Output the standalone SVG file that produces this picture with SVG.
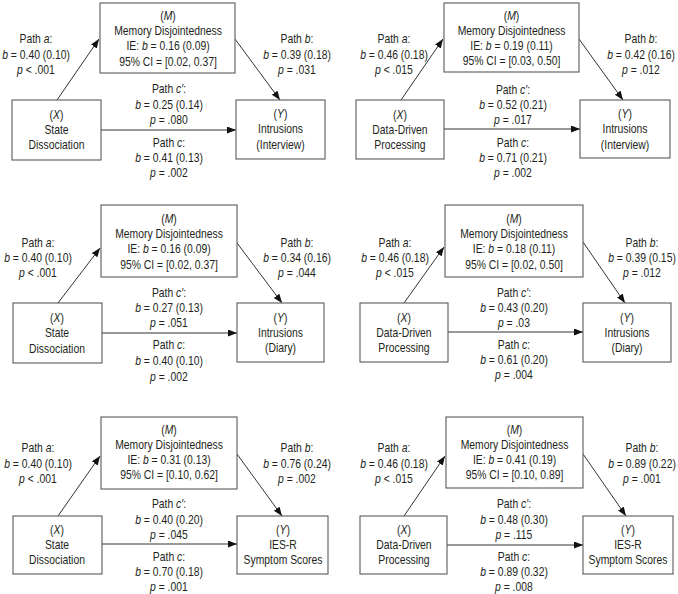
<svg xmlns="http://www.w3.org/2000/svg" width="678" height="594" viewBox="0 0 678 594">
<style>
text{font-family:"Liberation Sans",Arial,sans-serif;font-size:12.5px;fill:#231f20;text-anchor:middle;transform-box:fill-box;transform-origin:center;transform:scaleX(0.83)}
.i{font-style:italic}
.box{fill:#fff;stroke:#5a5a5a;stroke-width:1.1}
.ln{fill:none;stroke:#333;stroke-width:1;marker-end:url(#ah)}
</style>
<defs>
<marker id="ah" markerUnits="userSpaceOnUse" markerWidth="10" markerHeight="8" refX="9" refY="3.5" orient="auto">
<path d="M0,0 L9,3.5 L0,7 z" fill="#111"/>
</marker>
</defs>
<rect width="678" height="594" fill="#fff"/>

<g id="connectors">
<line class="ln" x1="57" y1="100" x2="99" y2="39"/>
<line class="ln" x1="235" y1="39" x2="280" y2="100"/>
<line class="ln" x1="101" y1="130" x2="236" y2="130"/>
<line class="ln" x1="401" y1="100" x2="443" y2="39"/>
<line class="ln" x1="579" y1="39" x2="623" y2="100"/>
<line class="ln" x1="444" y1="129" x2="580" y2="129"/>
<line class="ln" x1="58" y1="303" x2="100" y2="248"/>
<line class="ln" x1="237" y1="243" x2="282" y2="303"/>
<line class="ln" x1="102" y1="333" x2="237" y2="333"/>
<line class="ln" x1="404" y1="303" x2="444" y2="247"/>
<line class="ln" x1="583" y1="242" x2="625" y2="303"/>
<line class="ln" x1="448" y1="332" x2="583" y2="332"/>
<line class="ln" x1="58" y1="516" x2="100" y2="456"/>
<line class="ln" x1="237" y1="454" x2="282" y2="516"/>
<line class="ln" x1="102" y1="544" x2="237" y2="544"/>
<line class="ln" x1="404" y1="516" x2="445" y2="456"/>
<line class="ln" x1="583" y1="454" x2="626" y2="516"/>
<line class="ln" x1="447" y1="545" x2="583" y2="545"/>
</g>

<!-- Panel 1 -->
<g id="p1-M"><rect class="box" x="100" y="3" width="135" height="70"/>
<text x="168" y="20.5">(<tspan class="i">M</tspan>)</text>
<text x="168" y="35.5">Memory Disjointedness</text>
<text x="168" y="50.5">IE: <tspan class="i">b</tspan> = 0.16 (0.09)</text>
<text x="168" y="66">95% CI = [0.02, 0.37]</text></g>
<g id="p1-X"><rect class="box" x="12" y="100" width="89" height="60"/>
<text x="56.5" y="119.5">(<tspan class="i">X</tspan>)</text>
<text x="56.5" y="134.5">State</text>
<text x="56.5" y="149.5">Dissociation</text></g>
<g id="p1-Y"><rect class="box" x="236" y="100" width="89" height="59"/>
<text x="280.5" y="118.5">(<tspan class="i">Y</tspan>)</text>
<text x="280.5" y="133.5">Intrusions</text>
<text x="280.5" y="149">(Interview)</text></g>
<g id="p1-labels">
<text x="36" y="43.5">Path <tspan class="i">a</tspan>:</text>
<text x="36" y="59"><tspan class="i">b</tspan> = 0.40 (0.10)</text>
<text x="36" y="74.5"><tspan class="i">p</tspan> &lt; .001</text>
<text x="297" y="43.5">Path <tspan class="i">b</tspan>:</text>
<text x="297" y="59"><tspan class="i">b</tspan> = 0.39 (0.18)</text>
<text x="297" y="74.5"><tspan class="i">p</tspan> = .031</text>
<text x="169" y="93.5">Path <tspan class="i">c′</tspan>:</text>
<text x="169" y="109"><tspan class="i">b</tspan> = 0.25 (0.14)</text>
<text x="169" y="124"><tspan class="i">p</tspan> = .080</text>
<text x="169" y="147.5">Path <tspan class="i">c</tspan>:</text>
<text x="169" y="162"><tspan class="i">b</tspan> = 0.41 (0.13)</text>
<text x="169" y="177.5"><tspan class="i">p</tspan> = .002</text>
</g>

<!-- Panel 2 -->
<g id="p2-M"><rect class="box" x="444" y="3" width="135" height="69"/>
<text x="511.5" y="20">(<tspan class="i">M</tspan>)</text>
<text x="511.5" y="35">Memory Disjointedness</text>
<text x="511.5" y="50">IE: <tspan class="i">b</tspan> = 0.19 (0.11)</text>
<text x="511.5" y="65.5">95% CI = [0.03, 0.50]</text></g>
<g id="p2-X"><rect class="box" x="356" y="100" width="88" height="59"/>
<text x="400" y="119.5">(<tspan class="i">X</tspan>)</text>
<text x="400" y="134.5">Data-Driven</text>
<text x="400" y="149.5">Processing</text></g>
<g id="p2-Y"><rect class="box" x="580" y="100" width="90" height="58"/>
<text x="625" y="118.5">(<tspan class="i">Y</tspan>)</text>
<text x="625" y="133.5">Intrusions</text>
<text x="625" y="149">(Interview)</text></g>
<g id="p2-labels">
<text x="394" y="43.5">Path <tspan class="i">a</tspan>:</text>
<text x="394" y="59"><tspan class="i">b</tspan> = 0.46 (0.18)</text>
<text x="394" y="74.5"><tspan class="i">p</tspan> &lt; .015</text>
<text x="641" y="43.5">Path <tspan class="i">b</tspan>:</text>
<text x="641" y="59"><tspan class="i">b</tspan> = 0.42 (0.16)</text>
<text x="641" y="74.5"><tspan class="i">p</tspan> = .012</text>
<text x="513" y="94.5">Path <tspan class="i">c′</tspan>:</text>
<text x="513" y="109.5"><tspan class="i">b</tspan> = 0.52 (0.21)</text>
<text x="513" y="124"><tspan class="i">p</tspan> = .017</text>
<text x="513" y="147.5">Path <tspan class="i">c</tspan>:</text>
<text x="513" y="162"><tspan class="i">b</tspan> = 0.71 (0.21)</text>
<text x="513" y="177"><tspan class="i">p</tspan> = .002</text>
</g>

<!-- Panel 3 -->
<g id="p3-M"><rect class="box" x="101" y="205" width="136" height="72"/>
<text x="169" y="223.5">(<tspan class="i">M</tspan>)</text>
<text x="169" y="238.5">Memory Disjointedness</text>
<text x="169" y="253">IE: <tspan class="i">b</tspan> = 0.16 (0.09)</text>
<text x="169" y="269.5">95% CI = [0.02, 0.37]</text></g>
<g id="p3-X"><rect class="box" x="13" y="303" width="89" height="60"/>
<text x="57" y="322.5">(<tspan class="i">X</tspan>)</text>
<text x="57" y="337.5">State</text>
<text x="57" y="353">Dissociation</text></g>
<g id="p3-Y"><rect class="box" x="237" y="303" width="87" height="59"/>
<text x="280.5" y="322.5">(<tspan class="i">Y</tspan>)</text>
<text x="280.5" y="337.5">Intrusions</text>
<text x="280.5" y="352.5">(Diary)</text></g>
<g id="p3-labels">
<text x="38" y="247.5">Path <tspan class="i">a</tspan>:</text>
<text x="38" y="262.5"><tspan class="i">b</tspan> = 0.40 (0.10)</text>
<text x="38" y="277.5"><tspan class="i">p</tspan> &lt; .001</text>
<text x="297" y="247.5">Path <tspan class="i">b</tspan>:</text>
<text x="297" y="262.5"><tspan class="i">b</tspan> = 0.34 (0.16)</text>
<text x="297" y="277.5"><tspan class="i">p</tspan> = .044</text>
<text x="169" y="297.5">Path <tspan class="i">c′</tspan>:</text>
<text x="169" y="312.5"><tspan class="i">b</tspan> = 0.27 (0.13)</text>
<text x="169" y="327.5"><tspan class="i">p</tspan> = .051</text>
<text x="169" y="349.5">Path <tspan class="i">c</tspan>:</text>
<text x="169" y="365"><tspan class="i">b</tspan> = 0.40 (0.10)</text>
<text x="169" y="381"><tspan class="i">p</tspan> = .002</text>
</g>

<!-- Panel 4 -->
<g id="p4-M"><rect class="box" x="445" y="205" width="138" height="72"/>
<text x="514" y="223.5">(<tspan class="i">M</tspan>)</text>
<text x="514" y="238.5">Memory Disjointedness</text>
<text x="514" y="253">IE: <tspan class="i">b</tspan> = 0.18 (0.11)</text>
<text x="514" y="269.5">95% CI = [0.02, 0.50]</text></g>
<g id="p4-X"><rect class="box" x="360" y="303" width="88" height="59"/>
<text x="404" y="322.5">(<tspan class="i">X</tspan>)</text>
<text x="404" y="337.5">Data-Driven</text>
<text x="404" y="352.5">Processing</text></g>
<g id="p4-Y"><rect class="box" x="583" y="303" width="88" height="59"/>
<text x="627" y="322.5">(<tspan class="i">Y</tspan>)</text>
<text x="627" y="337.5">Intrusions</text>
<text x="627" y="352.5">(Diary)</text></g>
<g id="p4-labels">
<text x="395" y="247.5">Path <tspan class="i">a</tspan>:</text>
<text x="395" y="262.5"><tspan class="i">b</tspan> = 0.46 (0.18)</text>
<text x="395" y="277.5"><tspan class="i">p</tspan> &lt; .015</text>
<text x="642" y="247.5">Path <tspan class="i">b</tspan>:</text>
<text x="642" y="262.5"><tspan class="i">b</tspan> = 0.39 (0.15)</text>
<text x="642" y="277.5"><tspan class="i">p</tspan> = .012</text>
<text x="514" y="297.5">Path <tspan class="i">c′</tspan>:</text>
<text x="514" y="312.5"><tspan class="i">b</tspan> = 0.43 (0.20)</text>
<text x="514" y="327.5"><tspan class="i">p</tspan> = .03</text>
<text x="514" y="349.5">Path <tspan class="i">c</tspan>:</text>
<text x="514" y="364.5"><tspan class="i">b</tspan> = 0.61 (0.20)</text>
<text x="514" y="379.5"><tspan class="i">p</tspan> = .004</text>
</g>

<!-- Panel 5 -->
<g id="p5-M"><rect class="box" x="101" y="417" width="136" height="72"/>
<text x="169" y="434.5">(<tspan class="i">M</tspan>)</text>
<text x="169" y="449">Memory Disjointedness</text>
<text x="169" y="464">IE: <tspan class="i">b</tspan> = 0.31 (0.13)</text>
<text x="169" y="479.5">95% CI = [0.10, 0.62]</text></g>
<g id="p5-X"><rect class="box" x="13" y="516" width="89" height="58"/>
<text x="57" y="534.5">(<tspan class="i">X</tspan>)</text>
<text x="57" y="549.5">State</text>
<text x="57" y="564">Dissociation</text></g>
<g id="p5-Y"><rect class="box" x="237" y="516" width="91" height="58"/>
<text x="283" y="534.5">(<tspan class="i">Y</tspan>)</text>
<text x="283" y="549.5">IES-R</text>
<text x="283" y="564">Symptom Scores</text></g>
<g id="p5-labels">
<text x="38" y="452.5">Path <tspan class="i">a</tspan>:</text>
<text x="38" y="468.5"><tspan class="i">b</tspan> = 0.40 (0.10)</text>
<text x="38" y="483.5"><tspan class="i">p</tspan> &lt; .001</text>
<text x="297" y="452.5">Path <tspan class="i">b</tspan>:</text>
<text x="297" y="468.5"><tspan class="i">b</tspan> = 0.76 (0.24)</text>
<text x="297" y="483.5"><tspan class="i">p</tspan> = .002</text>
<text x="169" y="508.5">Path <tspan class="i">c′</tspan>:</text>
<text x="169" y="524.5"><tspan class="i">b</tspan> = 0.40 (0.20)</text>
<text x="169" y="539.5"><tspan class="i">p</tspan> = .045</text>
<text x="169" y="561.5">Path <tspan class="i">c</tspan>:</text>
<text x="169" y="576"><tspan class="i">b</tspan> = 0.70 (0.18)</text>
<text x="169" y="591"><tspan class="i">p</tspan> = .001</text>
</g>

<!-- Panel 6 -->
<g id="p6-M"><rect class="box" x="446" y="417" width="137" height="71"/>
<text x="514.5" y="434.5">(<tspan class="i">M</tspan>)</text>
<text x="514.5" y="449">Memory Disjointedness</text>
<text x="514.5" y="464">IE: <tspan class="i">b</tspan> = 0.41 (0.19)</text>
<text x="514.5" y="479.5">95% CI = [0.10, 0.89]</text></g>
<g id="p6-X"><rect class="box" x="360" y="516" width="87" height="58"/>
<text x="404" y="534.5">(<tspan class="i">X</tspan>)</text>
<text x="404" y="549.5">Data-Driven</text>
<text x="404" y="564">Processing</text></g>
<g id="p6-Y"><rect class="box" x="583" y="516" width="90" height="58"/>
<text x="628" y="534.5">(<tspan class="i">Y</tspan>)</text>
<text x="628" y="549.5">IES-R</text>
<text x="628" y="564">Symptom Scores</text></g>
<g id="p6-labels">
<text x="394" y="452.5">Path <tspan class="i">a</tspan>:</text>
<text x="394" y="468.5"><tspan class="i">b</tspan> = 0.46 (0.18)</text>
<text x="394" y="483.5"><tspan class="i">p</tspan> &lt; .015</text>
<text x="642" y="452.5">Path <tspan class="i">b</tspan>:</text>
<text x="642" y="468.5"><tspan class="i">b</tspan> = 0.89 (0.22)</text>
<text x="642" y="483.5"><tspan class="i">p</tspan> = .001</text>
<text x="514" y="508.5">Path <tspan class="i">c′</tspan>:</text>
<text x="514" y="524.5"><tspan class="i">b</tspan> = 0.48 (0.30)</text>
<text x="514" y="539.5"><tspan class="i">p</tspan> = .115</text>
<text x="514" y="561.5">Path <tspan class="i">c</tspan>:</text>
<text x="514" y="576"><tspan class="i">b</tspan> = 0.89 (0.32)</text>
<text x="514" y="591"><tspan class="i">p</tspan> = .008</text>
</g>
</svg>
